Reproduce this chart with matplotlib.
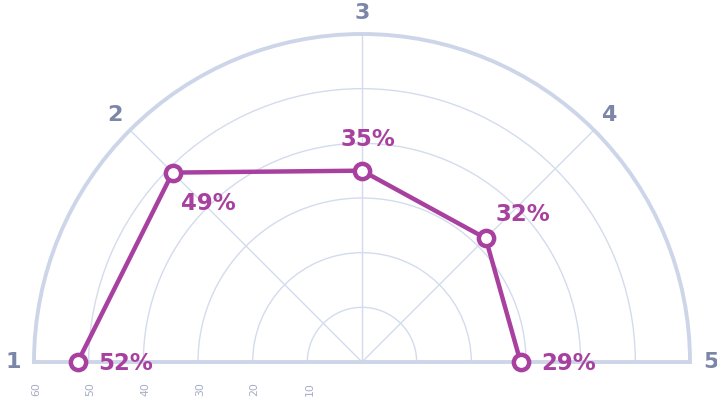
import numpy as np
import matplotlib
matplotlib.use("Agg")
import matplotlib.pyplot as plt

# categories around the half circle (left to right) and their values
categories = ["1", "2", "3", "4", "5"]
values = [52, 49, 35, 32, 29]
value_labels = ["52%", "49%", "35%", "32%", "29%"]
radial_ticks = [10, 20, 30, 40, 50, 60]

purple = "#a8409f"
grid_col = "#d3dbed"
spine_col = "#cdd5e8"
cat_col = "#7b86a8"
rtick_col = "#a5adc6"

fig = plt.figure(figsize=(7.17, 4.03), dpi=100)
# half wedge is fitted into a square box: center at (362, 362 from top), radius 328 px
ax = fig.add_axes([34 / 717, -123 / 403, 656 / 717, 656 / 403], projection="polar")
ax.set_thetamin(0)
ax.set_thetamax(180)
ax.set_rlim(0, 60)

# angles: category 1 at 180 deg, 5 at 0 deg
theta_deg = np.linspace(180, 0, len(categories))
theta = np.deg2rad(theta_deg)

ax.set_rticks(radial_ticks[:-1])
ax.set_yticklabels([])
ax.set_thetagrids([45, 90, 135], labels=[])
ax.grid(True, color=grid_col, lw=1)
for name in ["polar", "start", "end"]:
    ax.spines[name].set_color(spine_col)
    ax.spines[name].set_linewidth(2.8)
ax.spines["inner"].set_visible(False)
ax.tick_params(length=0)

# category labels outside the arc
for t, c in zip(theta, categories):
    ax.text(t, 63.8, c, ha="center", va="center", fontsize=16,
            fontweight="bold", color=cat_col, clip_on=False)

# radial tick labels below the baseline, rotated
for r in radial_ticks:
    ax.annotate(str(r), xy=(np.pi, r), xytext=(2, -27), textcoords="offset pixels",
                rotation=90, ha="center", va="center", fontsize=7.8,
                color=rtick_col, annotation_clip=False)

ax.plot(theta, values, color=purple, lw=3.2, marker="o", markersize=11,
        markerfacecolor="white", markeredgecolor=purple, markeredgewidth=3.2,
        clip_on=False, zorder=5)

# value labels: offsets in pixels from each point
offsets = [(20, -2, "left"), (8, -31, "left"), (6, 31, "center"),
           (10, 24, "left"), (21, -2, "left")]
for t, v, lab, (dx, dy, ha) in zip(theta, values, value_labels, offsets):
    ax.annotate(lab, xy=(t, v), xytext=(dx, dy), textcoords="offset pixels",
                ha=ha, va="center", fontsize=16.5, fontweight="bold",
                color=purple, annotation_clip=False, zorder=6)

fig.savefig("out.png", dpi=100)
